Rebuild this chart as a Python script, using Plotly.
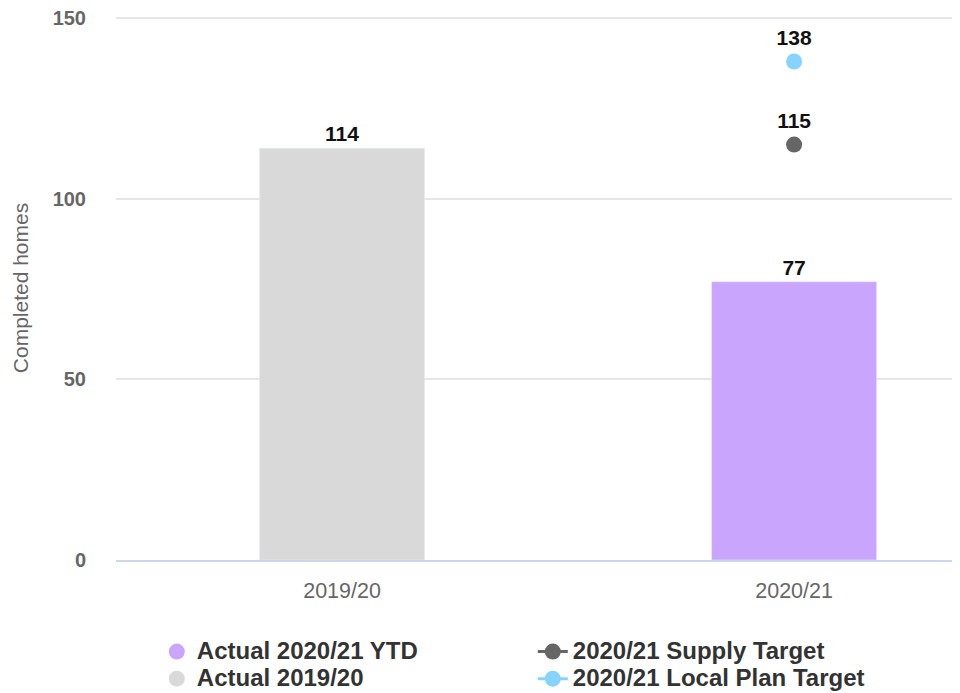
import plotly.graph_objects as go

categories = ["2019/20", "2020/21"]
actual_1920 = [114, None]
actual_2021_ytd = [None, 77]
supply_target = [None, 115]
local_plan_target = [None, 138]

FONT = "Liberation Sans, Arial, sans-serif"
GREY_BAR = "#d9d9d9"
PURPLE = "#c9a5fe"
DARK = "#666666"
LIGHTBLUE = "#86d3ff"
LABEL_FONT = dict(family=FONT, size=21, color="#111111", weight="bold")


def lbl(vals):
    return [str(v) if v is not None else "" for v in vals]


def big(name):
    return '<span style="font-size:24px">' + name + "</span>"


fig = go.Figure()

fig.add_trace(go.Bar(x=categories, y=actual_1920, marker_color=GREY_BAR, width=0.365,
                     text=lbl(actual_1920), textposition="outside", cliponaxis=False,
                     textfont=LABEL_FONT, showlegend=False, name="Actual 2019/20"))
fig.add_trace(go.Bar(x=categories, y=actual_2021_ytd, marker_color=PURPLE, width=0.365,
                     text=lbl(actual_2021_ytd), textposition="outside", cliponaxis=False,
                     textfont=LABEL_FONT, showlegend=False, name="Actual 2020/21 YTD"))

fig.add_trace(go.Scatter(x=categories, y=supply_target, mode="lines+markers+text",
                         name=big("2020/21 Supply Target"), line=dict(color=DARK, width=3),
                         marker=dict(size=16, color=DARK),
                         text=lbl(supply_target), textposition="top center", cliponaxis=False,
                         textfont=LABEL_FONT, legendrank=2))
fig.add_trace(go.Scatter(x=categories, y=local_plan_target, mode="lines+markers+text",
                         name=big("2020/21 Local Plan Target"), line=dict(color=LIGHTBLUE, width=3),
                         marker=dict(size=16, color=LIGHTBLUE),
                         text=lbl(local_plan_target), textposition="top center", cliponaxis=False,
                         textfont=LABEL_FONT, legendrank=4))

# legend proxies for the bar series (circle symbols)
fig.add_trace(go.Scatter(x=[categories[0]], y=[None], mode="markers", name=big("Actual 2020/21 YTD"),
                         marker=dict(size=16, color=PURPLE), legendrank=1))
fig.add_trace(go.Scatter(x=[categories[0]], y=[None], mode="markers", name=big("Actual 2019/20"),
                         marker=dict(size=16, color=GREY_BAR), legendrank=3))

fig.update_layout(
    width=960, height=693,
    margin=dict(l=108, r=8, t=8, b=141, autoexpand=False),
    paper_bgcolor="white", plot_bgcolor="white",
    barmode="overlay",
    font=dict(family=FONT, color="#666666"),
    showlegend=True,
    legend=dict(orientation="h", xref="container", yref="container",
                x=0.155, y=0.098, xanchor="left", yanchor="top",
                entrywidth=331, entrywidthmode="pixels",
                font=dict(family=FONT, size=18.5, color="#333333", weight="bold"),
                itemsizing="trace", tracegroupgap=0, bgcolor="rgba(0,0,0,0)"),
)

fig.update_xaxes(type="category", range=[-0.5, 1.367], showgrid=False,
                 showline=True, linecolor="#ccd6eb", linewidth=2,
                 ticks="outside", ticklen=10, tickcolor="rgba(0,0,0,0)",
                 tickfont=dict(family=FONT, size=21.5, color="#666666"))
fig.update_yaxes(range=[0, 150.6], tickvals=[0, 50, 100, 150],
                 showgrid=True, gridcolor="#e6e6e6", gridwidth=2, zeroline=False,
                 ticklabeloverflow="allow",
                 ticks="outside", ticklen=25, tickcolor="rgba(0,0,0,0)",
                 tickfont=dict(family=FONT, size=20, color="#666666", weight="bold"),
                 title=dict(text="Completed homes", font=dict(family=FONT, size=21, color="#666666"),
                            standoff=18))

fig.write_html("out.html")
